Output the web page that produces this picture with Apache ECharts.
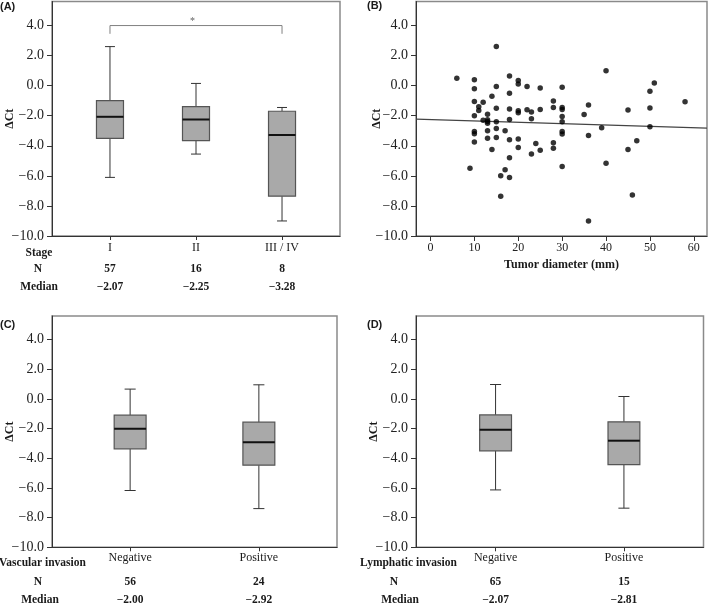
<!DOCTYPE html>
<html><head><meta charset="utf-8">
<script src="https://cdn.jsdelivr.net/npm/echarts@6/dist/echarts.min.js"></script>
<style>html,body{margin:0;padding:0;background:#fff}#c{width:709px;height:604px}</style>
</head><body><div id="c"></div>
<script>
// ---------- data ----------
const yTicks = [4, 2, 0, -2, -4, -6, -8, -10];
const diamTicks = [0, 10, 20, 30, 40, 50, 60];

// Panel A: stage
const stageCats = ['I', 'II', 'III / IV'];
const stageN = [57, 16, 8];
const stageMedian = [-2.07, -2.25, -3.28];
// [lower whisker, Q1, median, Q3, upper whisker]
const stageBox = [
  [-6.1, -3.5, -2.07, -1.0, 2.6],
  [-4.55, -3.65, -2.25, -1.4, 0.15],
  [-9.0, -7.35, -3.28, -1.7, -1.45]
];
const sigBracket = [[0, 3.45], [0, 4.0], [2, 4.0], [2, 3.45]];
const sigStar = [[0.96, 4.25]];

// Panel B: tumor diameter vs dCt
const diameter = [6, 9, 10, 10, 10, 10, 10, 10, 10, 11, 11, 12, 12, 13, 13, 13, 13, 13, 13, 14, 14,
  15, 15, 15, 15, 15, 15, 16, 16, 17, 17, 18, 18, 18, 18, 18, 18, 18, 20, 20, 20, 20, 20, 20,
  22, 22, 23, 23, 23, 24, 25, 25, 25, 28, 28, 28, 28, 30, 30, 30, 30, 30, 30, 30, 30,
  35, 36, 36, 36, 39, 40, 40, 45, 45, 46, 47, 50, 50, 50, 51, 58];
const dct = [0.5, -5.5, 0.4, -0.2, -1.05, -2.0, -3.05, -3.2, -3.75, -1.4, -1.65, -1.1, -2.3, -1.9, -2.27, -2.38, -2.5, -3.0, -3.5, -0.7, -4.25,
  2.6, -0.05, -1.5, -2.4, -2.85, -3.45, -6.0, -7.35, -3.0, -5.6, 0.65, -0.5, -1.55, -2.25, -3.6, -4.8, -6.1, 0.35, 0.12, -1.67, -1.8, -3.55, -4.12,
  -0.05, -1.6, -1.75, -2.2, -4.55, -3.85, -0.15, -1.58, -4.3, -1.02, -1.45, -3.8, -4.17, -0.1, -1.45, -1.58, -2.05, -2.4, -3.05, -3.22, -5.37,
  -1.91, -1.28, -3.32, -9.0, -2.8, 0.99, -5.16, -1.62, -4.25, -7.28, -3.67, -0.37, -1.48, -2.74, 0.18, -1.07];
const fitLine = [[-3.3, -2.22], [63, -2.82]];

// Panel C: vascular invasion
const vascCats = ['Negative', 'Positive'];
const vascN = [56, 24];
const vascMedian = [-2.00, -2.92];
const vascBox = [
  [-6.17, -3.36, -2.00, -1.09, 0.67],
  [-7.39, -4.46, -2.92, -1.56, 0.96]
];

// Panel D: lymphatic invasion
const lymphCats = ['Negative', 'Positive'];
const lymphN = [65, 15];
const lymphMedian = [-2.07, -2.81];
const lymphBox = [
  [-6.13, -3.49, -2.07, -1.07, 0.98],
  [-7.36, -4.43, -2.81, -1.54, 0.17]
];

// ---------- helpers ----------
const SERIF = 'Liberation Serif';
const MINUS = '\u2212';
const fmtSigned = (v, d) => (v < 0 ? MINUS : '') + Math.abs(v).toFixed(d);
const boldFont = 'bold 11.5px "Liberation Serif"';

function boxItem(halfW, capHalf) {
  return function (params, api) {
    const i = api.value(0);
    const lo = api.coord([i, api.value(1)]);
    const q1 = api.coord([i, api.value(2)]);
    const md = api.coord([i, api.value(3)]);
    const q3 = api.coord([i, api.value(4)]);
    const hi = api.coord([i, api.value(5)]);
    const xl = api.coord([i - halfW, 0])[0], xr = api.coord([i + halfW, 0])[0];
    const cl = api.coord([i - capHalf, 0])[0], cr = api.coord([i + capHalf, 0])[0];
    const x = lo[0];
    const ws = { stroke: '#333', lineWidth: 1 };
    return {
      type: 'group', children: [
        { type: 'line', shape: { x1: x, y1: hi[1], x2: x, y2: q3[1] }, style: ws },
        { type: 'line', shape: { x1: x, y1: q1[1], x2: x, y2: lo[1] }, style: ws },
        { type: 'line', shape: { x1: cl, y1: hi[1], x2: cr, y2: hi[1] }, style: ws },
        { type: 'line', shape: { x1: cl, y1: lo[1], x2: cr, y2: lo[1] }, style: ws },
        { type: 'rect', shape: { x: xl, y: q3[1], width: xr - xl, height: q1[1] - q3[1] },
          style: { fill: '#a9a9a9', stroke: '#555', lineWidth: 1.2 } },
        { type: 'line', shape: { x1: xl, y1: md[1], x2: xr, y2: md[1] }, style: { stroke: '#111', lineWidth: 2 } }
      ]
    };
  };
}
function txt(text, x, y, font, align) {
  return { type: 'text', x: x, y: y,
    style: { text: text, font: font, fill: '#1a1a1a', align: align || 'center', verticalAlign: 'middle',
             textAlign: align || 'center', textVerticalAlign: 'middle' } };
}
function rowItem(dN, dM) {
  return function (params, api) {
    const i = api.value(0);
    const p = api.coord([i, -10]);
    return { type: 'group', children: [
      txt(String(api.value(1)), p[0], p[1] + dN, boldFont),
      txt(fmtSigned(api.value(2), 2), p[0], p[1] + dM, boldFont)
    ] };
  };
}
function yAx(g, gap) {
  return {
    type: 'value', gridIndex: g, min: -10, max: 5.6,
    name: '\u0394Ct', nameLocation: 'middle', nameRotate: 90, nameGap: gap, nameMoveOverlap: false,
    nameTextStyle: { fontFamily: SERIF, fontWeight: 'bold', fontSize: 12, color: '#1a1a1a' },
    axisLine: { show: true, onZero: false, lineStyle: { color: '#333', width: 1 } },
    axisTick: { show: true, length: 5, customValues: yTicks, lineStyle: { color: '#333' } },
    axisLabel: { customValues: yTicks, formatter: v => fmtSigned(v, 1), margin: 8,
                 fontFamily: SERIF, fontSize: 14, color: '#222' },
    splitLine: { show: false }
  };
}
function catX(g, min, max, cats, margin) {
  const idx = cats.map((c, i) => i);
  return {
    type: 'value', gridIndex: g, min: min, max: max,
    axisLine: { show: true, onZero: false, lineStyle: { color: '#333', width: 1 } },
    axisTick: { show: true, length: 4, customValues: idx, lineStyle: { color: '#333' } },
    axisLabel: { customValues: idx, formatter: v => cats[Math.round(v)], margin: margin,
                 fontFamily: SERIF, fontSize: 12, color: '#1a1a1a' },
    splitLine: { show: false }
  };
}
function boxData(boxes) { return boxes.map((b, i) => [i].concat(b)); }
function rowData(ns, meds) { return ns.map((n, i) => [i, n, meds[i]]); }

const gridStyle = { show: true, borderColor: '#8a8a8a', borderWidth: 1.5, backgroundColor: 'transparent' };

const option = {
  animation: false,
  grid: [
    Object.assign({ left: 52, top: 1.5, width: 288, height: 234.5 }, gridStyle),
    Object.assign({ left: 416, top: 1.5, width: 291, height: 234.5 }, gridStyle),
    Object.assign({ left: 52, top: 316, width: 285, height: 231.3 }, gridStyle),
    Object.assign({ left: 416, top: 316, width: 287.5, height: 231.3 }, gridStyle)
  ],
  xAxis: [
    catX(0, -0.674, 2.674, stageCats, 6),
    {
      type: 'value', gridIndex: 1, min: -3.3, max: 63,
      name: 'Tumor diameter (mm)', nameLocation: 'middle', nameGap: 23, nameMoveOverlap: false,
      nameTextStyle: { fontFamily: SERIF, fontWeight: 'bold', fontSize: 12, color: '#1a1a1a' },
      axisLine: { show: true, onZero: false, lineStyle: { color: '#333', width: 1 } },
      axisTick: { show: true, length: 5, customValues: diamTicks, lineStyle: { color: '#333' } },
      axisLabel: { customValues: diamTicks, margin: 6, fontFamily: SERIF, fontSize: 12, color: '#222' },
      splitLine: { show: false }
    },
    catX(2, -0.607, 1.607, vascCats, 5),
    catX(3, -0.62, 1.62, lymphCats, 5)
  ],
  yAxis: [yAx(0, 36), yAx(1, 33), yAx(2, 36), yAx(3, 36)],
  series: [
    { type: 'custom', xAxisIndex: 0, yAxisIndex: 0, renderItem: boxItem(0.157, 0.058),
      data: boxData(stageBox), encode: { x: 0, y: [1, 2, 3, 4, 5] }, z: 3 },
    { type: 'custom', xAxisIndex: 0, yAxisIndex: 0, renderItem: rowItem(33, 51), clip: false,
      data: rowData(stageN, stageMedian), encode: { x: 0, y: 1 } },
    { type: 'line', xAxisIndex: 0, yAxisIndex: 0, data: sigBracket, showSymbol: false, symbol: 'none',
      lineStyle: { color: '#808080', width: 1 } },
    { type: 'scatter', xAxisIndex: 0, yAxisIndex: 0, data: sigStar, symbolSize: 0,
      label: { show: true, formatter: '*', position: 'inside', fontFamily: SERIF, fontSize: 10, color: '#333' } },

    { type: 'scatter', xAxisIndex: 1, yAxisIndex: 1, data: diameter.map((d, i) => [d, dct[i]]),
      symbolSize: 5.5, itemStyle: { color: '#000' }, z: 3 },
    { type: 'line', xAxisIndex: 1, yAxisIndex: 1, data: fitLine, showSymbol: false, symbol: 'none',
      lineStyle: { color: '#444', width: 1.2 } },

    { type: 'custom', xAxisIndex: 2, yAxisIndex: 2, renderItem: boxItem(0.124, 0.043),
      data: boxData(vascBox), encode: { x: 0, y: [1, 2, 3, 4, 5] } },
    { type: 'custom', xAxisIndex: 2, yAxisIndex: 2, renderItem: rowItem(34.5, 52.7), clip: false,
      data: rowData(vascN, vascMedian), encode: { x: 0, y: 1 } },

    { type: 'custom', xAxisIndex: 3, yAxisIndex: 3, renderItem: boxItem(0.124, 0.043),
      data: boxData(lymphBox), encode: { x: 0, y: [1, 2, 3, 4, 5] } },
    { type: 'custom', xAxisIndex: 3, yAxisIndex: 3, renderItem: rowItem(34.5, 52.7), clip: false,
      data: rowData(lymphN, lymphMedian), encode: { x: 0, y: 1 } }
  ],
  graphic: [
    txt('(A)', 0, 7, 'bold 11px "Liberation Sans"', 'left'),
    txt('(B)', 367, 6, 'bold 11px "Liberation Sans"', 'left'),
    txt('(C)', 0, 325, 'bold 11px "Liberation Sans"', 'left'),
    txt('(D)', 367, 325, 'bold 11px "Liberation Sans"', 'left'),
    txt('Stage', 39, 253, boldFont),
    txt('N', 38, 269, boldFont),
    txt('Median', 39, 287, boldFont),
    txt('Vascular invasion', 42.5, 563, boldFont),
    txt('N', 38, 582, boldFont),
    txt('Median', 40, 600, boldFont),
    txt('Lymphatic invasion', 408.5, 563, boldFont),
    txt('N', 394, 582, boldFont),
    txt('Median', 400, 600, boldFont)
  ]
};
echarts.init(document.getElementById('c')).setOption(option);
</script></body></html>
